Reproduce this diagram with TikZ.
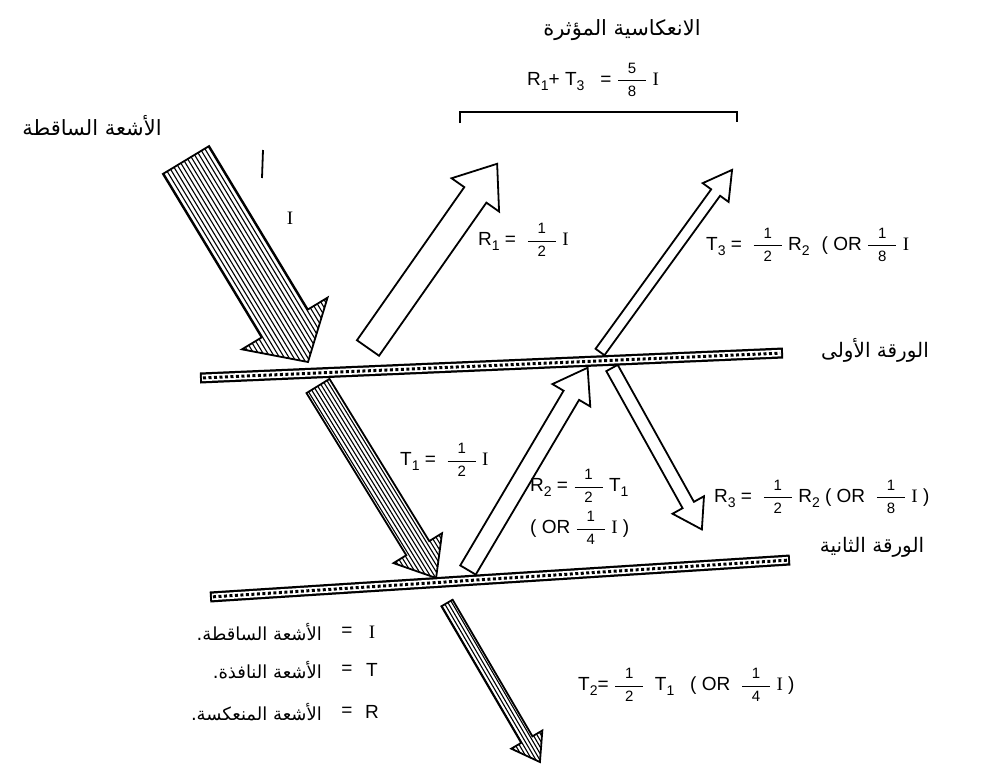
\documentclass[tikz,border=0pt]{standalone}
\usepackage{fontspec}
\setmainfont{Liberation Sans}
\newfontfamily\arabicfont[Script=Arabic]{DejaVu Sans}
\newfontfamily\serifI{Liberation Serif}
\TeXXeTstate=1
\usetikzlibrary{calc}

\newcommand\II{{\serifI I}}
\newcommand\mysub[1]{\raisebox{-0.55ex}{\fontsize{14}{14}\selectfont #1}}
\newcommand\fr[2]{\ensuremath{\displaystyle\frac{\makebox[28pt]{\fontsize{15}{15}\selectfont #1}}{\makebox[28pt]{\fontsize{15}{15}\selectfont #2}}}}

% #1 x, #2 y, #3 angle, #4 length, #5 shaft width, #6 head width, #7 head length
\newcommand\arrowpts[7]{%
 \coordinate (p1) at (0,{-#5/2});
 \coordinate (p2) at ({#4-#7},{-#5/2});
 \coordinate (p3) at ({#4-#7},{-#6/2});
 \coordinate (p4) at (#4,0);
 \coordinate (p5) at ({#4-#7},{#6/2});
 \coordinate (p6) at ({#4-#7},{#5/2});
 \coordinate (p7) at (0,{#5/2});}
\newcommand\hollowarrow[7]{%
 \begin{scope}[shift={(#1,#2)},rotate=#3]
  \arrowpts{#1}{#2}{#3}{#4}{#5}{#6}{#7}
  \draw[arrowline,fill=white] (p1)--(p2)--(p3)--(p4)--(p5)--(p6)--(p7)--cycle;
 \end{scope}}
\newcommand\hatcharrow[8]{%
 \begin{scope}[shift={(#1,#2)},rotate=#3]
  \arrowpts{#1}{#2}{#3}{#4}{#5}{#6}{#7}
  \fill[white] (p1)--(p2)--(p3)--(p4)--(p5)--(p6)--(p7)--cycle;
  \begin{scope}
   \clip (p1)--(p2)--(p3)--(p4)--(p5)--(p6)--(p7)--cycle;
   \pgfmathtruncatemacro\nn{#6/#8}
   \foreach \k in {0,...,\nn} \draw[hatch] (0,{-#6/2+\k*#8}) -- (#4,{-#6/2+\k*#8});
  \end{scope}
  \draw[arrowline] (p1)--(p2)--(p3)--(p4)--(p5)--(p6)--(p7)--cycle;
 \end{scope}}
\newcommand\sheetbar[2]{%
 \draw[line width=11pt] (#1) -- (#2);
 \draw[line width=6.5pt, white, shorten <=2pt, shorten >=2pt] (#1) -- (#2);
 \draw[line width=3pt, dash pattern=on 3pt off 2.5pt, shorten <=3pt, shorten >=3pt] (#1) -- (#2);}

\begin{document}
\begin{tikzpicture}[x=1pt,y=-1pt,
  arrowline/.style={line width=1.8pt, line join=miter},
  hatch/.style={line width=1.1pt},
  lbl/.style={inner sep=0pt, anchor=west, font=\fontsize{19}{22}\selectfont},
  ar/.style={inner sep=0pt, font=\arabicfont\fontsize{21}{25}\selectfont},
  arsmall/.style={inner sep=0pt, anchor=east, font=\arabicfont\fontsize{18}{22}\selectfont},
  leg/.style={inner sep=0pt, font=\fontsize{19}{22}\selectfont},
]
\useasboundingbox (0,0) rectangle (987,764);

% arrows
\hatcharrow{186}{160}{-58.87}{236}{54}{100}{45}{4}
\hatcharrow{318}{386}{-58.4}{225.4}{27}{57}{35}{3.6}
\hatcharrow{447}{603}{-59.7}{184.2}{13}{36}{26}{3.4}
\hollowarrow{368}{348}{54.97}{225}{27}{58}{38}
\hollowarrow{600}{352}{54.05}{225}{11}{32}{28}
\hollowarrow{468}{570}{59.4}{235}{18}{44}{32}
\hollowarrow{612}{368}{-60.9}{184.8}{13}{36}{28}

% sheets
\coordinate (s1a) at (200,378);
\coordinate (s1b) at (783,353);
\coordinate (s2a) at (210,597);
\coordinate (s2b) at (790,560);
\sheetbar{s1a}{s1b}
\sheetbar{s2a}{s2b}

% bracket
\coordinate (b1) at (460,123);
\coordinate (b2) at (460,112);
\coordinate (b3) at (737,112);
\coordinate (b4) at (737,122);
\draw[line width=2pt] (b1) -- (b2) -- (b3) -- (b4);

% hand stroke
\coordinate (h1) at (263,150);
\coordinate (h2) at (262,178);
\draw[line width=1.8pt] (h1) -- (h2);

% arabic labels
\node[ar] (tl) at (92,126) {\beginR الأشعة الساقطة\endR};
\node[ar] (title) at (622,30) {\beginR الانعكاسية المؤثرة\endR};
\node[ar, font=\arabicfont\fontsize{20}{24}\selectfont] (sh1) at (875,350) {\beginR الورقة الأولى\endR};
\node[ar, font=\arabicfont\fontsize{20}{24}\selectfont] (sh2) at (872,547) {\beginR الورقة الثانية\endR};

% formulas
\node[lbl] (sum) at (527,80) {R\mysub{1}+ T\mysub{3}\hspace{16pt}= \fr{5}{8}\ \II};
\node[leg] (Ilab) at (290,218) {\II};
\node[lbl] (r1) at (478,240) {R\mysub{1} = \ \fr{1}{2}\ \II};
\node[lbl] (t3) at (706,245) {T\mysub{3} =\ \ \fr{1}{2}\ R\mysub{2}\hspace{12pt}( OR \fr{1}{8}\ \II};
\node[lbl] (t1) at (400,460) {T\mysub{1} = \ \fr{1}{2}\ \II};
\node[lbl] (r2) at (530,486) {R\mysub{2} = \fr{1}{2}\ T\mysub{1}};
\node[lbl] (r2b) at (530,528) {( OR \fr{1}{4}\ \II\ )};
\node[lbl] (r3) at (714,497) {R\mysub{3} = \ \fr{1}{2}\ R\mysub{2} ( OR \ \fr{1}{8}\ \II\ )};
\node[lbl] (t2) at (578,685) {T\mysub{2}= \fr{1}{2} \ T\mysub{1} \ \ ( OR \ \fr{1}{4}\ \II\ )};

% legend
\node[arsmall] (la) at (322,632) {\beginR الأشعة الساقطة.\endR};
\node[leg] (le1) at (347,632) {=};
\node[leg] (lI) at (372,632) {\II};
\node[arsmall] (lb) at (322,670) {\beginR الأشعة النافذة.\endR};
\node[leg] (le2) at (347,670) {=};
\node[leg] (lT) at (372,670) {T};
\node[arsmall] (lc) at (322,712) {\beginR الأشعة المنعكسة.\endR};
\node[leg] (le3) at (347,712) {=};
\node[leg] (lR) at (372,712) {R};
\end{tikzpicture}
\end{document}
